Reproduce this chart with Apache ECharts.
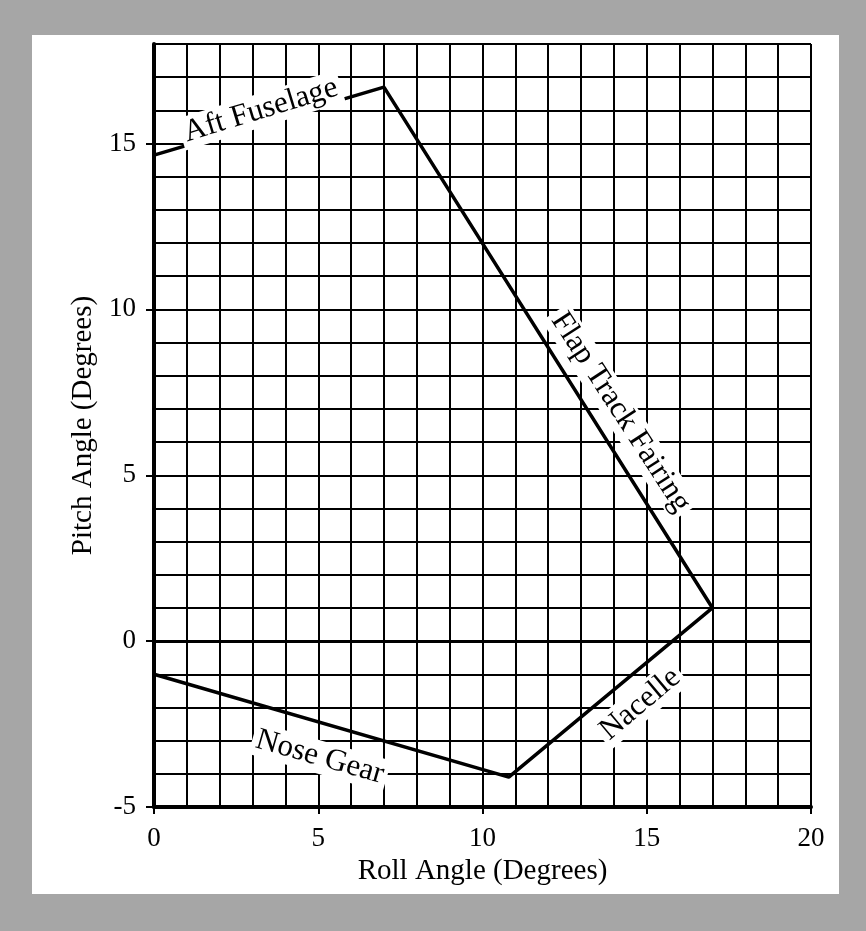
<!DOCTYPE html>
<html>
<head>
<meta charset="utf-8">
<script src="https://cdn.jsdelivr.net/npm/echarts@6/dist/echarts.min.js"></script>
<style>
html, body { margin: 0; padding: 0; background: #a6a6a6; }
#chart { width: 866px; height: 931px; }
</style>
</head>
<body>
<div id="chart"></div>
<script>
// outline of the clearance envelope (roll, pitch)
var rollPts  = [0, 7, 17, 10.8, 0];
var pitchPts = [14.65, 16.7, 1, -4.1, -1];

// region labels along the outline
var labelNames = ['Aft Fuselage', 'Flap Track Fairing', 'Nacelle', 'Nose Gear'];
var labelRoll  = [3.25, 14.2, 14.8, 5.05];
var labelPitch = [16.0, 6.9, -1.9, -3.5];
var labelAngle = [17, -57, 40, -16];

var xTicks = [0, 5, 10, 15, 20];
var yTicks = [-5, 0, 5, 10, 15];

var serif = 'Liberation Serif, Times New Roman, serif';

var outline = [];
for (var i = 0; i < rollPts.length; i++) {
    outline.push([rollPts[i], pitchPts[i]]);
}

var notes = [];
for (var j = 0; j < labelNames.length; j++) {
    notes.push({
        name: labelNames[j],
        value: [labelRoll[j], labelPitch[j]],
        label: {rotate: labelAngle[j]}
    });
}

function every5(v) {
    return v % 5 === 0 ? String(v) : '';
}

var myChart = echarts.init(document.getElementById('chart'));

option = {
    backgroundColor: '#a6a6a6',
    animation: false,
    graphic: [{
        type: 'rect',
        z: -100,
        shape: {x: 32, y: 35, width: 807, height: 859},
        style: {fill: '#ffffff'}
    }],
    grid: {left: 154, right: 55, top: 44, bottom: 124},
    xAxis: [{
        // 1-degree grid
        type: 'value',
        min: 0, max: 20, interval: 1,
        name: 'Roll Angle (Degrees)',
        nameLocation: 'middle',
        nameGap: 50,
        nameTextStyle: {fontFamily: serif, fontSize: 29, color: '#000'},
        axisLine: {onZero: false, lineStyle: {color: '#000', width: 4}},
        axisTick: {show: false},
        axisLabel: {formatter: every5, fontFamily: serif, fontSize: 27, color: '#000', margin: 18},
        splitLine: {show: true, lineStyle: {color: '#000', width: 2}}
    }, {
        // major ticks only
        type: 'value',
        position: 'bottom',
        min: 0, max: 20, interval: 5,
        axisLine: {show: false, onZero: false},
        axisTick: {show: true, customValues: xTicks, length: 7, lineStyle: {color: '#000', width: 2}},
        axisLabel: {show: false},
        splitLine: {show: false}
    }],
    yAxis: [{
        type: 'value',
        min: -5, max: 18, interval: 1,
        name: 'Pitch Angle (Degrees)',
        nameLocation: 'middle',
        nameGap: 54,
        nameRotate: 90,
        nameTextStyle: {fontFamily: serif, fontSize: 29, color: '#000'},
        axisLine: {onZero: false, lineStyle: {color: '#000', width: 4}},
        axisTick: {show: false},
        axisLabel: {formatter: every5, fontFamily: serif, fontSize: 27, color: '#000', margin: 18},
        splitLine: {show: true, lineStyle: {color: '#000', width: 2}}
    }, {
        type: 'value',
        position: 'left',
        min: -5, max: 18, interval: 5,
        axisLine: {show: false, onZero: false},
        axisTick: {show: true, customValues: yTicks, length: 8, lineStyle: {color: '#000', width: 2}},
        axisLabel: {show: false},
        splitLine: {show: false}
    }],
    series: [
        {
            type: 'line',
            data: outline,
            symbol: 'none',
            z: 3,
            lineStyle: {color: '#000', width: 3.5},
            markLine: {
                silent: true,
                symbol: 'none',
                label: {show: false},
                lineStyle: {color: '#000', width: 3, type: 'solid'},
                data: [{yAxis: 0}]
            }
        },
        {
            type: 'scatter',
            data: notes,
            symbolSize: 0,
            z: 4,
            itemStyle: {opacity: 1},
            label: {
                show: true,
                position: 'inside',
                formatter: '{b}',
                fontFamily: serif,
                fontSize: 31,
                color: '#000',
                backgroundColor: '#fff',
                padding: [1, 4]
            }
        }
    ]
};

myChart.setOption(option);
</script>
</body>
</html>
